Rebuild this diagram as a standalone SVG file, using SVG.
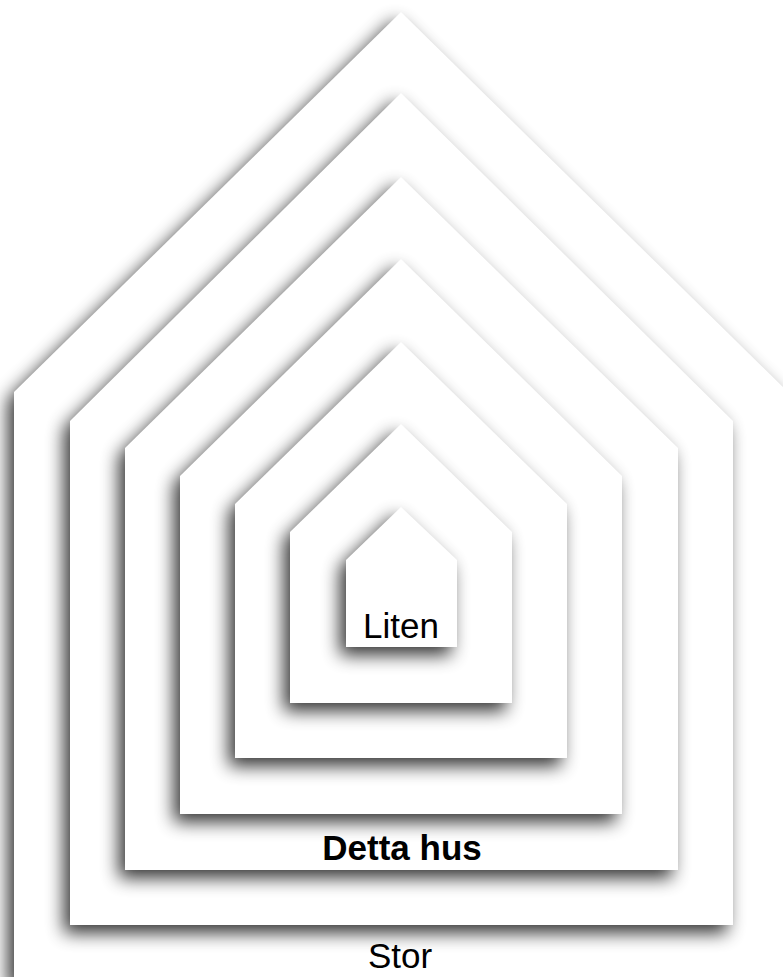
<svg xmlns="http://www.w3.org/2000/svg" width="783" height="977" viewBox="0 0 783 977">
<style>
.house{fill:#ffffff;filter:url(#sh);}
.lbl{font-family:"Liberation Sans",Arial,sans-serif;font-size:35px;fill:#000;text-anchor:middle;}
.b{font-weight:bold;}
</style>
<defs>
<filter id="sh" x="-30%" y="-30%" width="160%" height="160%" color-interpolation-filters="sRGB">
<feGaussianBlur in="SourceAlpha" stdDeviation="9"/>
<feOffset dx="-6" dy="8" result="b"/>
<feComponentTransfer in="b" result="s"><feFuncA type="linear" slope="0.8"/></feComponentTransfer>
<feMerge><feMergeNode in="s"/><feMergeNode in="SourceGraphic"/></feMerge>
</filter>
</defs>
<rect width="783" height="977" fill="#ffffff"/>
<g id="house-stor">
<polygon class="house" points="401,12 788,392 788,981 14,981 14,392"/>
<text class="lbl" x="400" y="968">Stor</text>
</g>
<g id="house-2">
<polygon class="house" points="401,93 733,421 733,925 70,925 70,421"/>
</g>
<g id="house-detta">
<polygon class="house" points="401,177 678,448 678,870 125,870 125,448"/>
<text class="lbl b" x="402" y="860">Detta hus</text>
</g>
<g id="house-4">
<polygon class="house" points="401,259 622,476 622,814 180,814 180,476"/>
</g>
<g id="house-5">
<polygon class="house" points="401,342 567,504 567,758 235,758 235,504"/>
</g>
<g id="house-6">
<polygon class="house" points="401,424 512,532 512,703 290,703 290,532"/>
</g>
<g id="house-liten">
<polygon class="house" points="401,507 457,560 457,647 346,647 346,560"/>
<text class="lbl" x="401" y="638">Liten</text>
</g>
<g id="connectors"></g>
</svg>
